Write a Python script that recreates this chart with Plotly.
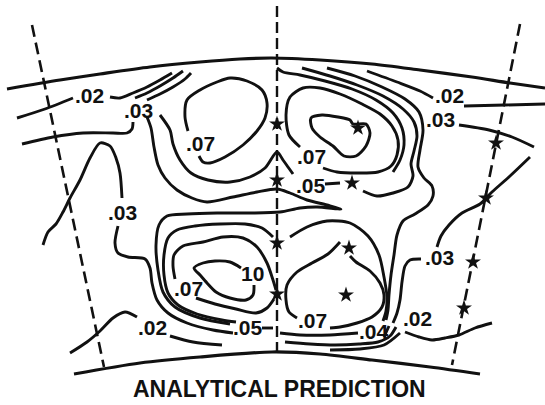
import plotly.graph_objects as go

# Blade-passage outline (screen-space coordinates of the sketch, y grows downward)
top_wall = [(7, 89), (60, 80), (100, 74), (150, 67), (200, 62), (240, 59), (272, 58),
            (320, 60), (372, 64), (420, 70), (472, 77), (510, 83), (545, 88)]
bottom_wall = [(74, 374), (140, 363), (200, 357), (272, 352), (320, 354), (372, 360),
               (430, 367), (480, 374)]

# Radial survey stations (dashed)
left_station = [(32, 25), (104, 367)]
center_station = [(277, 6), (277, 352)]
right_station = [(520, 24), (452, 365)]

# Measurement points (stars)
star_x = [277, 277, 277, 277, 358, 352, 349, 346, 496, 486, 473, 464]
star_y = [124, 180, 243, 294, 128, 183, 248, 295, 143, 198, 262, 308]

# Contour traces
contours = {}
contours["c02_ul_a"] = [(17, 118), (45, 109), (73, 98)]
contours["c02_ul_b"] = [(110, 97), (120, 98), (133, 93), (147, 87), (160, 80), (172, 73)]
contours["c025_ul"] = [(135, 98), (147, 93), (160, 86), (173, 78), (183, 71)]
contours["c03_ul_a"] = [(22, 144), (53, 137), (83, 133), (113, 133), (127, 133), (132, 129), (133, 122)]
contours["c03_ul_b"] = [(147, 100), (160, 94), (173, 87), (185, 79), (191, 73)]
contours["c07_ul"] = [(199, 156), (203, 162), (210, 163), (225, 157), (243, 145), (257, 131),
                      (265, 118), (267, 103), (262, 90), (247, 81), (230, 78), (217, 82),
                      (200, 90), (187, 100), (185, 117), (188, 131)]
contours["c05_wedge"] = [(147, 117), (151, 128), (154, 147), (158, 165), (165, 178), (177, 190),
                         (192, 198), (207, 202), (233, 197), (257, 192), (277, 189), (290, 193),
                         (307, 200), (327, 205), (341, 209), (317, 207), (300, 208), (280, 212),
                         (250, 213), (217, 213), (187, 214), (167, 216), (159, 225), (156, 245),
                         (158, 270), (163, 292), (175, 307), (200, 318), (230, 324)]
contours["c06_vee"] = [(160, 115), (170, 130), (173, 144), (180, 160), (191, 173), (208, 180),
                       (230, 182), (250, 177), (265, 168), (277, 152), (283, 160), (288, 167),
                       (293, 174)]
contours["c03_left"] = [(43, 245), (48, 232), (56, 224), (63, 212), (70, 198), (80, 180),
                        (90, 158), (100, 143), (110, 146), (116, 158), (120, 173), (122, 198)]
contours["c03_left_low"] = [(118, 226), (115, 243), (118, 253), (128, 257), (145, 259),
                            (150, 268), (152, 283), (157, 300), (168, 313), (187, 323),
                            (213, 330), (233, 333)]
contours["c06_ll"] = [(273, 237), (262, 228), (245, 224), (220, 224), (195, 226), (177, 230),
                      (168, 238), (164, 255), (164, 275), (168, 293), (178, 305), (197, 314),
                      (222, 320), (236, 322)]
contours["c07_ll_a"] = [(175, 279), (173, 266), (174, 255), (183, 246), (203, 242), (223, 237),
                        (243, 238), (257, 247), (267, 263), (273, 280), (276, 290)]
contours["c07_ll_b"] = [(196, 298), (215, 304), (236, 309), (256, 313), (267, 308), (274, 299)]
contours["c10_ll"] = [(241, 268), (230, 262), (215, 261), (203, 263), (194, 268), (200, 275),
                      (207, 283), (216, 292), (230, 298), (246, 300), (253, 295), (254, 285)]
contours["c02_ll_a"] = [(70, 353), (87, 342), (100, 331), (113, 318), (125, 312), (137, 317)]
contours["c02_ll_b"] = [(170, 336), (193, 342), (222, 345)]
contours["c05_dash_low"] = [(262, 328), (273, 328)]
contours["c05_low_r1"] = [(280, 333), (300, 335), (330, 335), (358, 333)]
contours["c04_low_r2"] = [(285, 342), (310, 344), (335, 345), (359, 344), (378, 342), (390, 336),
                          (396, 327)]
contours["c04_low_r3"] = [(330, 350), (360, 349), (384, 345), (400, 333)]
contours["c04_tick"] = [(384, 337), (389, 326)]
contours["c06_lr"] = [(290, 237), (307, 227), (327, 221), (350, 223), (368, 236), (379, 255),
                      (384, 277), (387, 297), (386, 311), (383, 321)]
contours["c07_lr_a"] = [(297, 318), (289, 312), (286, 300), (287, 285), (297, 272), (312, 263),
                        (328, 254), (340, 242)]
contours["c07_lr_b"] = [(350, 256), (356, 262), (370, 271), (380, 283), (384, 295), (382, 307),
                        (372, 317), (357, 323), (340, 327), (330, 328)]
contours["c07_ur"] = [(300, 147), (289, 135), (286, 115), (290, 97), (303, 88), (320, 88),
                      (340, 94), (362, 104), (380, 114), (392, 126), (398, 140), (397, 155),
                      (391, 166), (378, 172), (358, 173), (337, 172), (323, 168)]
contours["c09_ur"] = [(311, 118), (322, 115), (338, 117), (350, 120), (353, 124), (366, 124),
                      (370, 133), (366, 146), (356, 156), (344, 156), (333, 146), (320, 137),
                      (312, 128), (311, 118)]
contours["c05_ur_a"] = [(277, 68), (283, 72), (300, 75), (325, 81), (352, 89), (376, 100),
                        (393, 113), (402, 128), (404, 145), (400, 160), (393, 172)]
contours["c05_ur_b"] = [(302, 68), (330, 76), (357, 85), (383, 96), (403, 109), (414, 122),
                        (417, 136), (414, 151), (411, 164), (413, 176), (408, 187), (393, 193),
                        (377, 196), (363, 191)]
contours["c05_dash"] = [(325, 184), (340, 183)]
contours["c04_ur"] = [(327, 68), (355, 76), (382, 87), (405, 99), (419, 112), (423, 130),
                      (420, 150), (418, 167), (424, 178), (432, 186), (433, 196), (428, 205),
                      (415, 214), (403, 221), (397, 235), (394, 255), (391, 275), (389, 295),
                      (388, 310), (386, 320)]
contours["c02_ur_a"] = [(367, 71), (397, 82), (420, 91), (433, 98)]
contours["c02_ur_b"] = [(464, 106), (505, 105), (545, 104)]
contours["c03_ur_b"] = [(459, 125), (489, 130), (512, 137), (534, 147)]
contours["c03_r_a"] = [(530, 157), (510, 176), (492, 192), (480, 204), (462, 213), (449, 225),
                       (441, 236), (437, 247)]
contours["c03_r_b"] = [(421, 259), (410, 260), (405, 266), (402, 282), (400, 300), (397, 313),
                       (393, 323)]
contours["c02_lr"] = [(405, 332), (419, 337), (432, 340), (445, 338), (459, 335), (475, 328),
                      (492, 323)]

# Contour level labels
label_text = [".02", ".03", ".07", ".02", ".03", ".07", ".05", ".03", ".07", "10",
              ".02", ".05", ".07", ".04", ".02", ".03"]
label_x = [89, 138, 200, 449, 440, 311, 311, 122, 188, 252, 152, 248, 312, 374, 417, 439]
label_y = [95, 110, 143, 95, 119, 156, 185, 212, 288, 273, 327, 327, 320, 331, 318, 257]

title_text = "ANALYTICAL PREDICTION"

INK = "#111111"
FONT = "Liberation Sans, Arial, sans-serif"

fig = go.Figure()


def add_path(pts, width=2.9, dash=None, shape="spline"):
    xs = [p[0] for p in pts]
    ys = [p[1] for p in pts]
    fig.add_trace(go.Scatter(
        x=xs, y=ys, mode="lines", hoverinfo="skip", showlegend=False,
        line=dict(color=INK, width=width, dash=dash, shape=shape, smoothing=0.8)))


add_path(top_wall, width=3.2)
add_path(bottom_wall, width=3.2)
add_path(left_station, width=2.6, dash="12px,6px", shape="linear")
add_path(right_station, width=2.6, dash="12px,6px", shape="linear")
add_path(center_station, width=2.4, dash="11px,5px", shape="linear")

for name, pts in contours.items():
    add_path(pts, shape="linear" if len(pts) <= 2 else "spline")

fig.add_trace(go.Scatter(
    x=star_x, y=star_y, mode="markers", hoverinfo="skip", showlegend=False,
    marker=dict(symbol="star", size=12, color=INK, line=dict(width=0))))

for t, x, y in zip(label_text, label_x, label_y):
    fig.add_annotation(x=x, y=y, text=t, showarrow=False, xanchor="center", yanchor="middle",
                       font=dict(family=FONT, size=21, color=INK, weight="bold"),
                       bgcolor="rgba(0,0,0,0)")

fig.add_annotation(x=279, y=389, text=title_text, showarrow=False, xanchor="center",
                   yanchor="middle",
                   font=dict(family=FONT, size=23, color=INK, weight="bold"))

fig.update_xaxes(range=[0, 545], visible=False, fixedrange=True)
fig.update_yaxes(range=[405, 0], visible=False, fixedrange=True)
fig.update_layout(width=545, height=405, margin=dict(l=0, r=0, t=0, b=0),
                  paper_bgcolor="white", plot_bgcolor="white")

fig.write_html("out.html")
